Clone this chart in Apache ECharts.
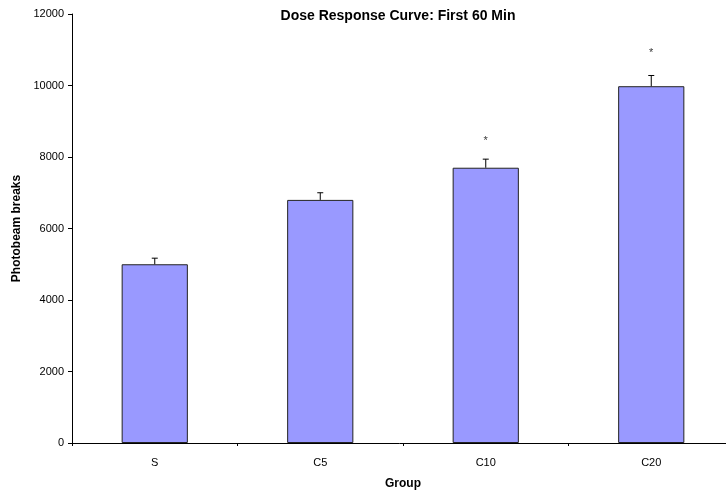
<!DOCTYPE html>
<html><head><meta charset="utf-8">
<script src="https://cdn.jsdelivr.net/npm/echarts@6/dist/echarts.min.js"></script>
<style>html,body{margin:0;padding:0;background:#fff}#c{width:726px;height:493px}</style>
</head><body><div id="c"></div>
<script>
const categories = ['S', 'C5', 'C10', 'C20'];
const means = [5000, 6800, 7700, 9980];
const sems = [170, 200, 240, 300];
const starValues = [null, null, 8450, 10900];
const yTicks = [0, 2000, 4000, 6000, 8000, 10000, 12000];

const font = 'Liberation Sans, Arial, sans-serif';
const chart = echarts.init(document.getElementById('c'));
chart.setOption({
  animation: false,
  backgroundColor: '#fff',
  title: {
    text: 'Dose Response Curve: First 60 Min',
    left: 393, top: 4, textAlign: 'center',
    textStyle: {fontFamily: font, fontSize: 14, fontWeight: 'bold', color: '#000'}
  },
  grid: {left: 72, width: 662, top: 14, height: 429, containLabel: false, outerBoundsMode: 'none'},
  xAxis: {
    type: 'category', data: categories,
    name: 'Group', nameLocation: 'middle', nameGap: 35,
    nameTextStyle: {fontFamily: font, fontSize: 12, fontWeight: 'bold', color: '#000'},
    axisLine: {lineStyle: {color: '#000', width: 1}},
    axisTick: {show: true, length: 3, lineStyle: {color: '#000'}},
    axisLabel: {fontFamily: font, fontSize: 11, color: '#000', margin: 14},
    splitLine: {show: false}
  },
  yAxis: {
    type: 'value', min: yTicks[0], max: yTicks[yTicks.length - 1], interval: 2000,
    name: 'Photobeam breaks', nameLocation: 'middle', nameGap: 44, nameRotate: 90,
    nameTextStyle: {fontFamily: font, fontSize: 12, fontWeight: 'bold', color: '#000'},
    axisLine: {show: true, lineStyle: {color: '#000', width: 1}},
    axisTick: {show: true, length: 4, lineStyle: {color: '#000'}},
    axisLabel: {fontFamily: font, fontSize: 11, color: '#000', margin: 8, formatter: v => String(v)},
    splitLine: {show: false}
  },
  series: [
    {
      type: 'bar', data: means, barWidth: '40%',
      itemStyle: {color: '#9999FF', borderColor: '#222', borderWidth: 1}
    },
    {
      type: 'custom',
      data: means.map((m, i) => [i, m, m + sems[i]]),
      renderItem: function (params, api) {
        const base = api.coord([api.value(0), api.value(1)]);
        const top = api.coord([api.value(0), api.value(2)]);
        const hw = 3;
        return {
          type: 'group',
          children: [
            {type: 'line', shape: {x1: base[0], y1: base[1], x2: top[0], y2: top[1]}, style: {stroke: '#000', lineWidth: 1}},
            {type: 'line', shape: {x1: top[0] - hw, y1: top[1], x2: top[0] + hw, y2: top[1]}, style: {stroke: '#000', lineWidth: 1}}
          ]
        };
      },
      z: 3
    },
    {
      type: 'scatter', data: starValues, symbolSize: 0,
      label: {show: true, formatter: '*', position: 'inside', fontFamily: font, fontSize: 11, color: '#000'}
    }
  ]
});
</script></body></html>
